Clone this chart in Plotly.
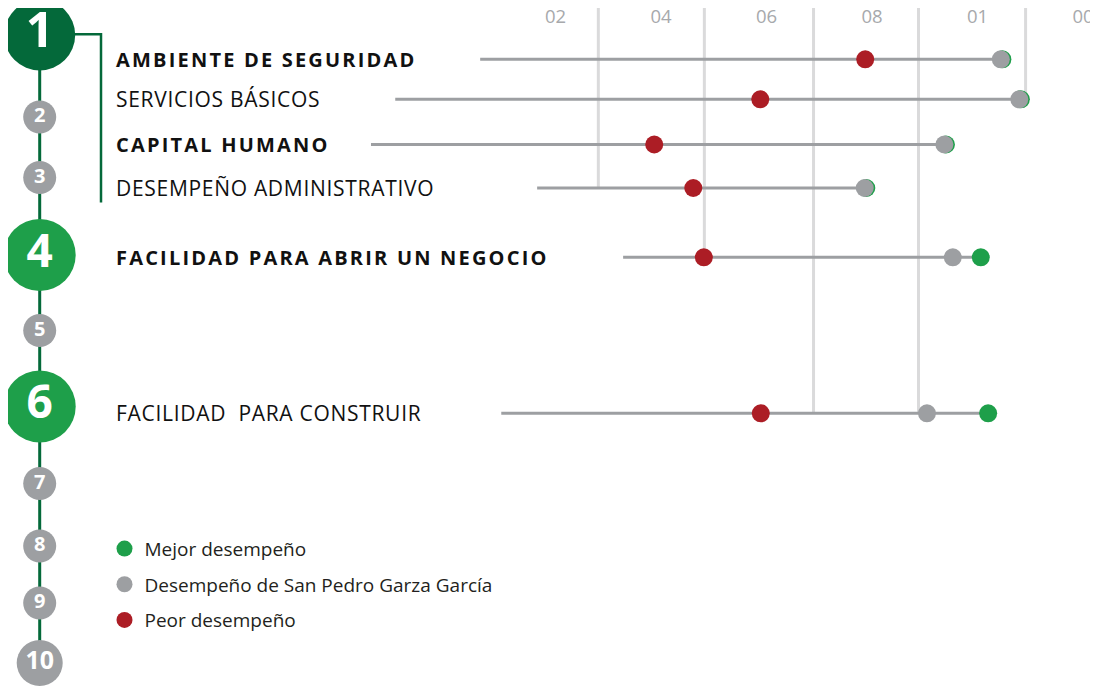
import plotly.graph_objects as go

# ---------------- data ----------------
categories = ["AMBIENTE DE SEGURIDAD", "SERVICIOS BÁSICOS", "CAPITAL HUMANO",
              "DESEMPEÑO ADMINISTRATIVO", "FACILIDAD PARA ABRIR UN NEGOCIO",
              "FACILIDAD  PARA CONSTRUIR"]
bold_label = [True, False, True, False, True, False]
line_start = [5.7, -10.4, -15.0, 16.5, 32.8, 9.7]
best = [104.7, 108.2, 94.0, 78.9, 100.6, 102.0]
san_pedro = [104.4, 107.9, 93.7, 78.6, 95.3, 90.4]
worst = [78.7, 58.8, 38.7, 46.1, 48.1, 58.9]

tick_values = [20, 40, 60, 80, 100, 120]
tick_labels = ["02", "04", "06", "08", "01", "00"]
grid_values = [28.1, 48.2, 68.9, 88.8, 109.1]
grid_end_row = [3, 4, 5, 5, 1]

steps = ["1", "2", "3", "4", "5", "6", "7", "8", "9", "10"]
legend_names = ["Mejor desempeño", "Desempeño de San Pedro Garza García", "Peor desempeño"]

# ---------------- layout constants ----------------
PAGE_OFF = 8                      # page margin around the figure div
FIG_W, FIG_H = 1098, 687
PX0, PX_PER = 450.1, 5.275        # screen x of value 0, px per unit
row_y = [59.3, 99.3, 144.5, 188, 257.3, 413.3]
step_y = [35, 117, 177.5, 255, 330.5, 406.5, 483.5, 546, 603, 663]
step_size = [71, 33, 33, 72, 33, 72, 33, 33, 33, 46]
step_font = [49, 20, 20, 46, 20, 46, 20, 20, 20, 25]
DARK_GREEN = "#04693A"
GREEN = "#1E9F4A"
GRAY = "#9D9FA2"
RED = "#AC1D25"
GRID = "#DADADB"
step_color = [DARK_GREEN, GRAY, GRAY, GREEN, GRAY, GREEN, GRAY, GRAY, GRAY, GRAY]
FONT = "Open Sans"

fig = go.Figure()

# connector lines
lx, ly = [], []
for s, b, g, w, y in zip(line_start, best, san_pedro, worst, row_y):
    lx += [s, max(b, g, w), None]
    ly += [y, y, None]
fig.add_trace(go.Scatter(x=lx, y=ly, mode="lines", line=dict(color=GRAY, width=3),
                         showlegend=False, hoverinfo="skip"))

for i, (vals, col, name) in enumerate([(best, GREEN, legend_names[0]),
                                       (san_pedro, GRAY, legend_names[1]),
                                       (worst, RED, legend_names[2])]):
    fig.add_trace(go.Scatter(x=vals, y=row_y, mode="markers", name=name, legendgroup=str(i),
                             marker=dict(color=col, size=18, opacity=1, line=dict(width=0)),
                             text=categories, hovertemplate="%{text}: %{x}<extra></extra>"))

# timeline
fig.add_shape(type="line", xref="x2", yref="y", x0=39.7, x1=39.7, y0=step_y[0], y1=step_y[-1],
              line=dict(color=DARK_GREEN, width=3), layer="below")
fig.add_shape(type="path", xref="x2", yref="y",
              path="M 70,34.3 L 101,34.3 L 101,202.5",
              line=dict(color=DARK_GREEN, width=2.5), layer="below")
fig.add_trace(go.Scatter(x=[39.7] * len(steps), y=step_y, xaxis="x2", mode="markers+text",
                         text=steps, textposition="middle center", cliponaxis=False,
                         textfont=dict(color="white", size=step_font, family=FONT, weight="bold"),
                         marker=dict(color=step_color, size=step_size, opacity=1, line=dict(width=0)),
                         showlegend=False, hoverinfo="skip"))

# gridlines
for gv, er in zip(grid_values, grid_end_row):
    fig.add_shape(type="line", xref="x", yref="y", x0=gv, x1=gv, y0=0, y1=row_y[er],
                  line=dict(color=GRID, width=3), layer="below")

# row labels
for cat, bl, y in zip(categories, bold_label, row_y):
    if bl:
        txt = f'<span style="letter-spacing:2.2px">{cat}</span>'
        fnt = dict(family=FONT, size=20, color="#111111", weight="bold")
    else:
        txt = f'<span style="letter-spacing:0.7px">{cat}</span>'
        fnt = dict(family=FONT, size=21, color="#111111", weight="normal")
    fig.add_annotation(x=114, y=y, xref="x2", yref="y", xanchor="left", yanchor="middle",
                       text=txt, showarrow=False, font=fnt)

fig.update_layout(
    width=FIG_W, height=FIG_H, margin=dict(l=0, r=0, t=0, b=0, pad=0, autoexpand=False),
    paper_bgcolor="white", plot_bgcolor="white",
    font=dict(family=FONT),
    xaxis=dict(range=[(PAGE_OFF - PX0) / PX_PER, (FIG_W + PAGE_OFF - PX0) / PX_PER], side="top",
               tickvals=tick_values, ticktext=tick_labels, ticklabelposition="inside",
               ticklabeloverflow="allow",
               ticks="", ticklen=0, ticklabelstandoff=-1, automargin=False,
               showgrid=False, zeroline=False, showline=False,
               tickfont=dict(family=FONT, size=18.5, color="#A7A9AC")),
    xaxis2=dict(range=[PAGE_OFF, FIG_W + PAGE_OFF], overlaying="x", visible=False, automargin=False),
    yaxis=dict(range=[FIG_H + PAGE_OFF, PAGE_OFF], visible=False, automargin=False),
    showlegend=True,
    legend=dict(x=(104.5 - PAGE_OFF) / FIG_W, y=1 - (529.7 - PAGE_OFF) / FIG_H,
                xanchor="left", yanchor="top", tracegroupgap=8,
                font=dict(family=FONT, size=19, color="#231F20"),
                bgcolor="rgba(0,0,0,0)", traceorder="grouped"),
)

fig.write_html("out.html")
